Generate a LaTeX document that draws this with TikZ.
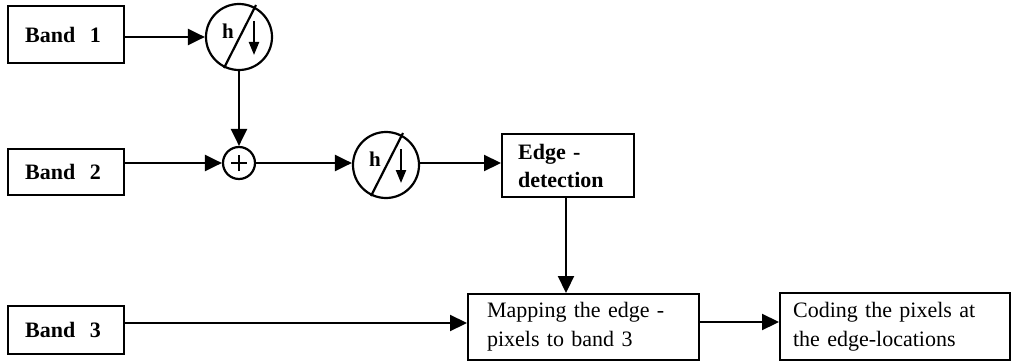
\documentclass[tikz,border=0pt]{standalone}
\usepackage{fontspec}
\setmainfont{Liberation Serif}
\usetikzlibrary{arrows.meta}
\newcommand{\hdeco}[1]{%
  \draw[lw] ([shift={(-15,31)}]#1.center) -- ([shift={(17,-32)}]#1.center);
  \node[hlabel] (#1h) at ([shift={(-11,-6)}]#1.center) {h};
  \draw[lw,-{Triangle[length=13pt,width=10pt]}] ([shift={(15,-16)}]#1.center) -- ([shift={(15,18)}]#1.center);
}
\begin{document}
\begin{tikzpicture}[x=1pt,y=-1pt,
  lw/.style={line width=2.2pt},
  arr/.style={line width=2.2pt,-{Triangle[length=17pt,width=16pt]}},
  box/.style={draw,line width=2.2pt,rectangle,anchor=north west,align=left,
    inner ysep=0pt,font=\fontsize{22}{29}\selectfont},
  bbox/.style={box,font=\bfseries\fontsize{22}{28}\selectfont},
  filt/.style={draw,line width=2.2pt,circle,minimum size=66pt,inner sep=0pt},
  sumc/.style={draw,line width=2.2pt,circle,minimum size=32pt,inner sep=0pt},
  hlabel/.style={inner sep=0pt,font=\bfseries\fontsize{21}{24}\selectfont}
]
\useasboundingbox (0,0) rectangle (1012,361);

\node[bbox,minimum width=116pt,minimum height=57pt,text width=82pt,inner xsep=17pt] (b1) at (7,5) {Band\ \ 1};
\node[bbox,minimum width=116pt,minimum height=46pt,text width=82pt,inner xsep=17pt] (b2) at (7,148) {Band\ \ 2};
\node[bbox,minimum width=116pt,minimum height=48pt,text width=82pt,inner xsep=17pt] (b3) at (7,305) {Band\ \ 3};

\node[filt] (h1) at (239,37) {};
\node[sumc] (plus) at (239,163) {};
\node[filt] (h2) at (386,165) {};

\node[bbox,minimum width=132pt,minimum height=63pt,text width=100pt,inner xsep=16pt] (edge) at (501,133) {Edge -\\detection};
\node[box,minimum width=231pt,minimum height=66pt,text width=193pt,inner xsep=19pt] (map) at (467,293) {Mapping the edge -\\pixels to band 3};
\node[box,minimum width=230pt,minimum height=67pt,text width=204pt,inner xsep=13pt] (code) at (779,292) {Coding the pixels at\\the edge-locations};

\hdeco{h1}
\hdeco{h2}
\draw[line width=2pt] ([xshift=-8pt]plus.center) -- ([xshift=8pt]plus.center);
\draw[line width=2pt] ([yshift=-8pt]plus.center) -- ([yshift=8pt]plus.center);

\draw[arr] (b1.east |- h1) -- (h1.west);
\draw[arr] (h1) -- (plus);
\draw[arr] (b2.east |- plus) -- (plus);
\draw[arr] (plus) -- (plus -| h2.west);
\draw[arr] (h2.east |- plus) -- (plus -| edge.west);
\draw[arr] (edge.south -| 566,0) -- (map.north -| 566,0);
\draw[arr] (b3.east |- 0,323) -- (map.west |- 0,323);
\draw[arr] (map.east |- 0,322) -- (code.west |- 0,322);
\end{tikzpicture}
\end{document}
